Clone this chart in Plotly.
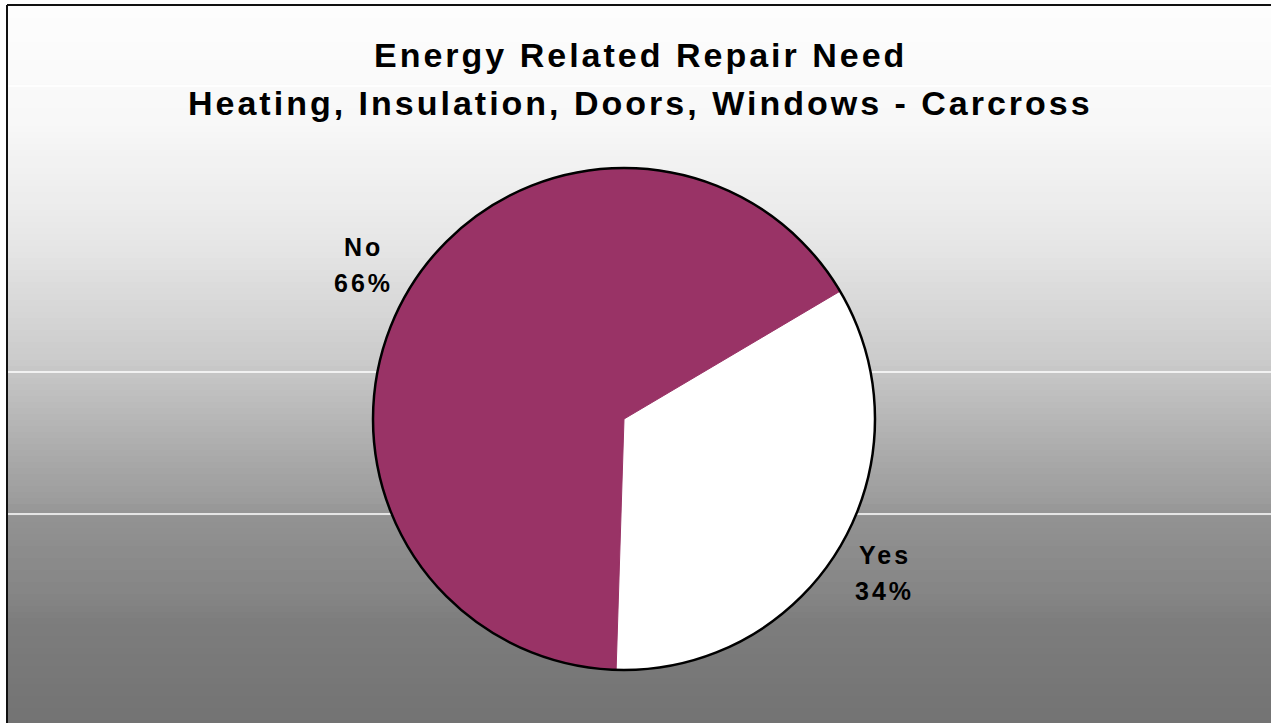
import math
import plotly.graph_objects as go

# Survey result: energy related repair need (Carcross)
categories = ["Yes", "No"]
shares = [34, 66]
slice_colors = ["#ffffff", "#993366"]
title_lines = ["Energy Related Repair Need", "Heating, Insulation, Doors, Windows - Carcross"]

W, H = 1271, 723
FONT = "Liberation Sans, Arial, Helvetica, sans-serif"


def px(x):
    return x / W


def py(y):
    return 1 - y / H


# vertical grey gradient of the chart area: (pixel row, grey level)
grad_stops = [(6, 253), (120, 248), (240, 231), (360, 203), (380, 195),
              (500, 156), (520, 146), (540, 142), (600, 132), (620, 125), (723, 115)]


def grey_at(y):
    for (y0, g0), (y1, g1) in zip(grad_stops, grad_stops[1:]):
        if y0 <= y <= y1:
            return g0 + (g1 - g0) * (y - y0) / (y1 - y0)
    return grad_stops[-1][1]


shapes = []
band = 6
y = 6
while y < H:
    g = int(round(grey_at(y + band / 2)))
    shapes.append(dict(type="rect", xref="paper", yref="paper", layer="below",
                       x0=px(8), x1=1, y0=py(min(y + band, H)), y1=py(y),
                       line=dict(width=0), fillcolor=f"rgb({g},{g},{g})"))
    y += band

# white horizontal rules behind the pie
for yy in (86, 372, 514):
    shapes.append(dict(type="line", xref="paper", yref="paper", layer="below",
                       x0=px(8), x1=1, y0=py(yy), y1=py(yy),
                       line=dict(color="white", width=1.5)))

# black frame (left and top edges)
shapes.append(dict(type="line", xref="paper", yref="paper", layer="below",
                   x0=px(7), x1=px(7), y0=py(5), y1=0,
                   line=dict(color="#111111", width=2)))
shapes.append(dict(type="line", xref="paper", yref="paper", layer="below",
                   x0=px(7), x1=1, y0=py(5), y1=py(5),
                   line=dict(color="#111111", width=2)))

cx, cy, r = 624, 419, 251
rotation = 59.4
domain = dict(x=[px(cx - r), px(cx + r)], y=[py(cy + r), py(cy - r)])

fig = go.Figure()
fig.add_trace(go.Pie(
    labels=categories,
    values=shares,
    sort=False,
    direction="clockwise",
    rotation=rotation,
    domain=domain,
    marker=dict(colors=slice_colors, line=dict(color=slice_colors, width=1)),
    textinfo="none",
    hoverinfo="label+percent",
    showlegend=False,
))
# outer rim of the pie
fig.add_trace(go.Pie(
    labels=["all"],
    values=[sum(shares)],
    domain=domain,
    marker=dict(colors=["rgba(0,0,0,0)"], line=dict(color="black", width=2.5)),
    textinfo="none",
    hoverinfo="skip",
    showlegend=False,
))

annotations = []
for text, yy in zip(title_lines, (55, 103)):
    annotations.append(dict(
        xref="paper", yref="paper", x=px(641), y=py(yy),
        xanchor="center", yanchor="middle", showarrow=False,
        text=f"<span style='letter-spacing:3px'>{text}</span>",
        font=dict(family=FONT, size=34, color="black", weight="bold"),
    ))

# outside slice labels, placed along each slice's mid-angle
label_font = dict(family=FONT, size=25, color="black", weight="bold")
label_dist = 303
total = sum(shares)
angle = rotation
for name, v in zip(categories, shares):
    mid = math.radians(angle + 180 * v / total)
    angle += 360 * v / total
    lx = cx + label_dist * math.sin(mid)
    ly = cy - label_dist * math.cos(mid)
    pct = round(100 * v / total)
    for line_text, dy in ((name, -18), (f"{pct}%", 18)):
        annotations.append(dict(
            xref="paper", yref="paper", x=px(lx), y=py(ly + dy),
            xanchor="center", yanchor="middle", showarrow=False,
            text=f"<span style='letter-spacing:3px'>{line_text}</span>",
            font=label_font,
        ))

fig.update_layout(
    width=W, height=H,
    margin=dict(l=0, r=0, t=0, b=0),
    paper_bgcolor="white",
    plot_bgcolor="white",
    shapes=shapes,
    annotations=annotations,
)

fig.write_html("out.html")
